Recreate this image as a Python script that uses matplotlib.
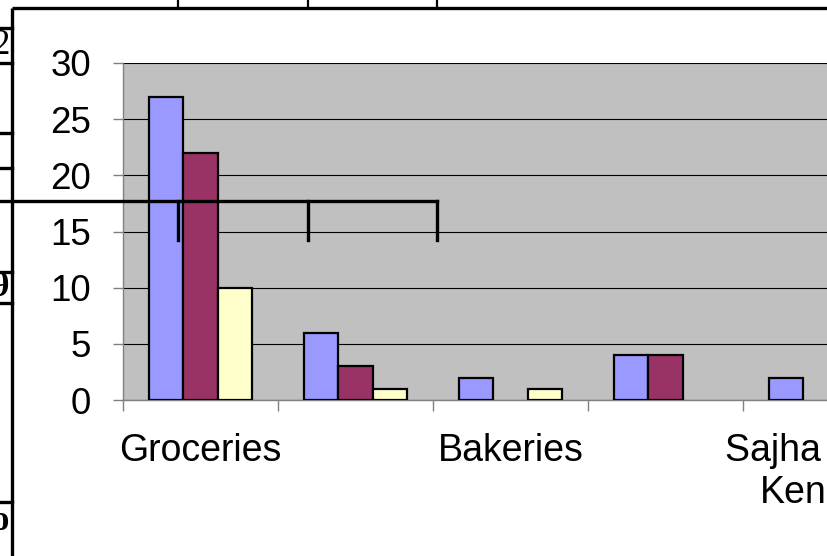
import matplotlib
matplotlib.use("Agg")
import matplotlib.pyplot as plt
import numpy as np
from matplotlib.patches import Rectangle

# ---- data ----
categories = ["Groceries", "", "Bakeries", "", "Sajha Seva\nKendra"]
series_1 = [27, 6, 2, 4, 2]
series_2 = [22, 3, 0, 4, 0]
series_3 = [10, 1, 1, 0, 0]
y_ticks = [0, 5, 10, 15, 20, 25, 30]
series_colors = ["#9999FF", "#993366", "#FFFFCC"]

W, H = 827, 556
fig = plt.figure(figsize=(W / 100, H / 100), dpi=100)
fig.patch.set_facecolor("white")

FONT = "Liberation Sans"
SERIF = "Liberation Serif"

# ---- background layer: fragments of the underlying table ----
bg = fig.add_axes([0, 0, 1, 1], zorder=0)
bg.set_xlim(0, W)
bg.set_ylim(H, 0)
bg.axis("off")
bg.text(-8, 45, "2", family=SERIF, fontsize=25, va="center", ha="left")
bg.text(-8, 287, "9", family=SERIF, fontsize=25, fontweight="bold", va="center", ha="left")
bg.text(-8, 522, "o", family=SERIF, fontsize=25, fontweight="bold", va="center", ha="left")
bg.add_patch(Rectangle((12, 8), W, H, facecolor="white", edgecolor="none", zorder=5))

# ---- main chart ----
ax = fig.add_axes([123 / W, 156 / H, 775 / W, 337 / H], zorder=1)
ax.set_facecolor("#C0C0C0")
x = np.arange(len(categories))
bw = 1 / 4.5
for i, (vals, col) in enumerate(zip([series_1, series_2, series_3], series_colors)):
    lws = [1.6 if v > 0 else 0 for v in vals]
    ax.bar(x + (i - 1) * bw, vals, width=bw, color=col, edgecolor="black",
           linewidth=lws, zorder=3)

ax.set_xlim(-0.5, len(categories) - 0.5)
ax.set_ylim(0, 30)
ax.set_yticks(y_ticks)
ax.set_yticklabels([str(v) for v in y_ticks], family=FONT, fontsize=26.5)
ax.yaxis.grid(True, color="black", linewidth=0.8, zorder=1)
ax.set_axisbelow(True)

ax.set_xticks(np.arange(-0.5, len(categories), 1))
ax.set_xticklabels([])
ax.set_xticks(x, minor=True)
ax.set_xticklabels(categories, minor=True, family=FONT, fontsize=27)
ax.tick_params(axis="x", which="major", length=8, color="#808080", width=1)
ax.tick_params(axis="x", which="minor", length=0, pad=24)
ax.tick_params(axis="y", length=7.2, color="#808080", width=1, pad=16)

for s in ["top", "right"]:
    ax.spines[s].set_visible(False)
for s in ["left", "bottom"]:
    ax.spines[s].set_color("#808080")
    ax.spines[s].set_linewidth(1)

# ---- top layer: chart frame and table lines crossing it ----
top = fig.add_axes([0, 0, 1, 1], zorder=2)
top.set_xlim(0, W)
top.set_ylim(H, 0)
top.axis("off")
top.patch.set_alpha(0)
lw = 2.4
# frame
top.plot([12, W], [8, 8], color="black", lw=lw, solid_capstyle="butt")
top.plot([12, 12], [8, H], color="black", lw=lw, solid_capstyle="butt")
# small verticals at the top edge
for xx in [178, 308, 437]:
    top.plot([xx, xx], [0, 8], color="black", lw=1.6)
# left horizontal fragments
for yy in [28, 63, 133, 168, 272, 303, 502]:
    top.plot([0, 12], [yy, yy], color="black", lw=lw)
# long horizontal line with downward ticks
top.plot([0, 437], [201, 201], color="black", lw=lw)
for xx in [178, 308, 437]:
    top.plot([xx, xx], [201, 240], color="black", lw=lw)

fig.savefig("out.png", dpi=100)
